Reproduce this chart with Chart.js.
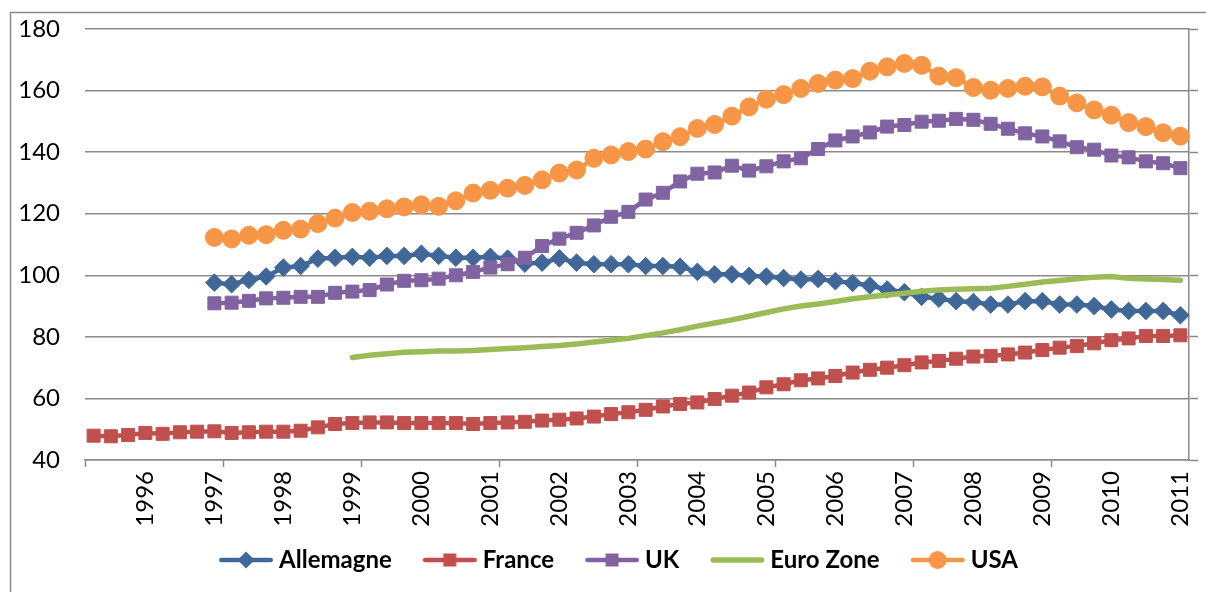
<!DOCTYPE html>
<html>
<head>
<meta charset="utf-8">
<script src="https://cdn.jsdelivr.net/npm/chart.js@4.4.1/dist/chart.umd.min.js"></script>
<style>
  html, body { margin: 0; padding: 0; background: #fff; }
  canvas { display: block; }
</style>
</head>
<body>
<canvas id="indices" width="1206" height="592"></canvas>
<script>
// quarterly data, 2nd quarter 1995 -> 1st quarter 2011
var quarters = [];
for (var y = 1995; y <= 2011; y++) {
    for (var q = 1; q <= 4; q++) {
        if ((y === 1995 && q === 1) || (y === 2011 && q > 1)) continue;
        quarters.push('T' + q + ' ' + y);
    }
}

var allemagne = [null, null, null, null, null, null, null,
    97.6, 97.1, 98.5, 99.6, 102.5, 103.0, 105.4, 105.7, 106.0, 105.7, 106.3,
    106.3, 107.0, 106.3, 105.7, 105.7, 106.0, 105.4, 103.8, 104.1, 105.5, 104.1, 103.6,
    103.6, 103.6, 103.0, 103.0, 102.8, 101.1, 100.3, 100.3, 99.8, 99.6, 99.1,
    98.6, 98.8, 98.1, 97.5, 96.7, 95.4, 94.5, 93.0, 92.4, 91.6, 91.3, 90.5,
    90.5, 91.6, 91.6, 90.5, 90.5, 90.0, 88.9, 88.4, 88.4, 88.4, 87.0];

var france = [47.9, 47.7, 48.1, 48.8, 48.5, 49.0, 49.2, 49.3, 48.8, 49.0, 49.2, 49.2,
    49.5, 50.6, 51.7, 52.0, 52.2, 52.2,
    52.0, 52.0, 52.0, 52.0, 51.7, 52.0, 52.2, 52.4, 52.8, 53.1, 53.5, 54.1,
    54.9, 55.5, 56.3, 57.4, 58.2, 58.7, 59.8, 60.9, 61.9, 63.6, 64.6,
    65.9, 66.5, 67.3, 68.4, 69.3, 70.0, 70.8, 71.7, 72.2, 72.9, 73.6, 73.8,
    74.3, 74.9, 75.7, 76.5, 77.0, 77.9, 78.9, 79.5, 80.3, 80.3, 80.5];

var uk = [null, null, null, null, null, null, null,
    90.9, 91.1, 91.7, 92.5, 92.7, 93.0, 93.0, 94.3, 94.7, 95.2, 97.0,
    98.2, 98.4, 98.9, 100.0, 101.1, 102.5, 103.6, 105.7, 109.5, 111.9, 113.8, 116.2,
    119.0, 120.6, 124.6, 126.8, 130.5, 133.0, 133.4, 135.6, 134.0, 135.4, 137.0,
    138.0, 141.0, 143.8, 145.1, 146.4, 148.3, 148.8, 149.9, 150.2, 150.8, 150.5, 149.2,
    147.6, 146.1, 145.1, 143.5, 141.6, 140.8, 138.9, 138.3, 137.0, 136.4, 134.8];

var euroZone = [null, null, null, null, null, null, null, null, null, null, null, null, null, null, null,
    73.3, 74.0, 74.5, 75.0, 75.2, 75.4, 75.4, 75.6, 75.9, 76.2, 76.5, 76.9, 77.2, 77.7,
    78.3, 78.9, 79.5, 80.4, 81.3, 82.3, 83.5, 84.5, 85.5, 86.7, 87.9, 89.1,
    90.0, 90.7, 91.5, 92.4, 93.0, 93.6, 94.2, 94.8, 95.2, 95.5, 95.6, 95.8,
    96.4, 97.1, 97.8, 98.3, 98.9, 99.4, 99.6, 99.0, 98.8, 98.6, 98.4];

var usa = [null, null, null, null, null, null, null,
    112.3, 111.8, 113.0, 113.2, 114.6, 115.0, 116.8, 118.6, 120.4, 120.8, 121.6,
    122.2, 122.9, 122.4, 124.2, 126.7, 127.6, 128.3, 129.2, 131.0, 133.2, 134.2, 138.0,
    139.1, 140.2, 141.0, 143.4, 145.0, 147.7, 149.0, 151.7, 154.7, 157.2, 158.7,
    160.7, 162.3, 163.4, 163.9, 166.3, 167.7, 168.8, 168.2, 164.7, 164.2, 161.0, 160.1,
    160.7, 161.4, 161.2, 158.2, 156.0, 153.7, 152.0, 149.6, 148.3, 146.3, 145.2];

var gray = '#8a8a8a';
var font = 'Lato';

// legend icon: line with the marker in the middle (drawn on the right part of the canvas)
function legendIcon(color, kind, lw) {
    var c = document.createElement('canvas');
    c.width = 91; c.height = 24;
    var g = c.getContext('2d');
    g.strokeStyle = color;
    g.fillStyle = color;
    g.lineWidth = lw;
    g.lineCap = 'round';
    g.beginPath();
    g.moveTo(37 + lw / 2, 12);
    g.lineTo(91 - lw / 2, 12);
    g.stroke();
    var cx = 64, cy = 12;
    if (kind === 'diamond') {
        g.beginPath();
        g.moveTo(cx - 8.5, cy); g.lineTo(cx, cy - 8.5); g.lineTo(cx + 8.5, cy); g.lineTo(cx, cy + 8.5);
        g.closePath(); g.fill();
    } else if (kind === 'square') {
        g.fillRect(cx - 6.5, cy - 6.5, 13, 13);
    } else if (kind === 'circle') {
        g.beginPath(); g.arc(cx, cy, 9, 0, Math.PI * 2); g.fill();
    }
    return c;
}

var icons = {
    'Allemagne': legendIcon('#3F6899', 'diamond', 4.5),
    'France': legendIcon('#C0504D', 'square', 4.5),
    'UK': legendIcon('#8064A2', 'square', 4.5),
    'Euro Zone': legendIcon('#9BBB59', 'none', 5.5),
    'USA': legendIcon('#F79646', 'circle', 4.5)
};

var framePlugin = {
    id: 'frame',
    beforeDraw: function(chart) {
        var c = chart.ctx;
        c.save();
        c.strokeStyle = gray;
        c.lineWidth = 1.5;
        c.beginPath();
        c.moveTo(10.5, 592);
        c.lineTo(10.5, 12.5);
        c.lineTo(1206, 12.5);
        c.stroke();
        c.restore();
    }
};

function serie(label, data, color, style, radius, width) {
    return {
        label: label,
        data: data,
        borderColor: color,
        backgroundColor: color,
        borderWidth: width,
        pointStyle: style,
        pointRadius: radius,
        pointBorderWidth: 1,
        pointHoverRadius: radius,
        borderCapStyle: 'round',
        spanGaps: false,
        tension: 0
    };
}

function noPadding(s) {
    s.paddingLeft = 0; s.paddingRight = 0; s.paddingTop = 0; s.paddingBottom = 0;
}

function draw() {
    var g = document.getElementById('indices').getContext('2d');
    var indices = new Chart(g, {
        type: 'line',
        data: {
            labels: quarters,
            // drawn last-to-first, so USA ends up on top
            datasets: [
                serie('USA', usa, '#F79646', 'circle', 9, 4.5),
                serie('Euro Zone', euroZone, '#9BBB59', false, 0, 5.5),
                serie('UK', uk, '#8064A2', 'rect', 9.2, 4.5),
                serie('France', france, '#C0504D', 'rect', 9.2, 4.5),
                serie('Allemagne', allemagne, '#3F6899', 'rectRot', 8.8, 4.5)
            ]
        },
        options: {
            responsive: false,
            animation: false,
            layout: { padding: { top: 29, right: 0, bottom: 10, left: 0 } },
            plugins: {
                tooltip: { enabled: false },
                legend: {
                    position: 'bottom',
                    reverse: true,
                    labels: {
                        usePointStyle: true,
                        pointStyleWidth: 79,
                        padding: 0,
                        color: '#000',
                        font: { family: font, size: 24, weight: 'bold' },
                        generateLabels: function(chart) {
                            var items = Chart.defaults.plugins.legend.labels.generateLabels(chart);
                            items.forEach(function(it) { it.pointStyle = icons[it.text]; });
                            return items;
                        }
                    }
                }
            },
            scales: {
                x: {
                    type: 'category',
                    offset: true,
                    grid: {
                        offset: true,
                        drawOnChartArea: false,
                        tickLength: 7,
                        tickWidth: 1.5,
                        tickColor: function(ctx) { return ctx.index % 8 === 0 ? gray : 'rgba(0,0,0,0)'; }
                    },
                    border: { display: true, color: gray, width: 1.5 },
                    ticks: {
                        autoSkip: false,
                        minRotation: 90,
                        maxRotation: 90,
                        padding: 4,
                        color: '#000',
                        font: { family: font, size: 24 },
                        callback: function(v, i) {
                            var q = quarters[i];
                            return q.indexOf('T1') === 0 ? q.slice(3) : '';
                        }
                    },
                    afterFit: function(s) { s.height = 88; noPadding(s); }
                },
                y: {
                    min: 40,
                    max: 180,
                    ticks: {
                        stepSize: 20,
                        padding: 25,
                        color: '#000',
                        font: { family: font, size: 24 }
                    },
                    grid: { color: gray, lineWidth: 1.5, drawTicks: false },
                    border: { display: false },
                    afterFit: function(s) { s.width = 85; noPadding(s); }
                },
                y2: {
                    position: 'right',
                    min: 40,
                    max: 180,
                    ticks: { stepSize: 20, display: false },
                    grid: { drawOnChartArea: false, drawTicks: true, tickLength: 9, tickColor: gray, tickWidth: 1.5 },
                    border: { display: true, color: gray, width: 1.5 },
                    afterFit: function(s) { s.width = 17; noPadding(s); }
                }
            }
        },
        plugins: [framePlugin]
    });
}

if (document.fonts && document.fonts.load) {
    Promise.all([
        document.fonts.load('24px Lato'),
        document.fonts.load('bold 24px Lato')
    ]).then(draw, draw);
} else {
    draw();
}
</script>
</body>
</html>
